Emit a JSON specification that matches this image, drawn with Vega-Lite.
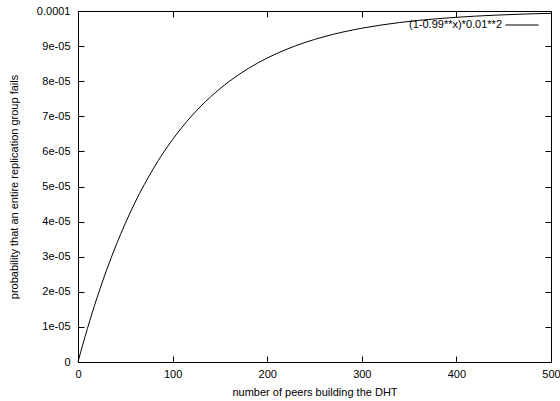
{
  "$schema": "https://vega.github.io/schema/vega-lite/v6.json",
  "width": 473,
  "height": 351,
  "autosize": {"type": "none"},
  "padding": {"left": 78, "top": 11, "right": 9, "bottom": 39},
  "background": "white",
  "config": {
    "font": "Liberation Sans",
    "view": {"stroke": "black", "strokeWidth": 1},
    "axis": {
      "grid": false,
      "domain": false,
      "tickColor": "black",
      "tickSize": -6,
      "labelColor": "black",
      "labelFont": "Liberation Sans",
      "labelFontSize": 11,
      "labelFlush": false,
      "titleFont": "Liberation Sans",
      "titleFontSize": 11,
      "titleFontWeight": "normal",
      "titleColor": "black"
    }
  },
  "data": {
    "values": [
      {"x": 0, "y": 0.0, "series": "(1-0.99**x)*0.01**2"},
      {"x": 5, "y": 0.000004901, "series": "(1-0.99**x)*0.01**2"},
      {"x": 10, "y": 0.000009562, "series": "(1-0.99**x)*0.01**2"},
      {"x": 15, "y": 0.000013994, "series": "(1-0.99**x)*0.01**2"},
      {"x": 20, "y": 0.000018209, "series": "(1-0.99**x)*0.01**2"},
      {"x": 25, "y": 0.000022218, "series": "(1-0.99**x)*0.01**2"},
      {"x": 30, "y": 0.000026030, "series": "(1-0.99**x)*0.01**2"},
      {"x": 35, "y": 0.000029655, "series": "(1-0.99**x)*0.01**2"},
      {"x": 40, "y": 0.000033103, "series": "(1-0.99**x)*0.01**2"},
      {"x": 45, "y": 0.000036381, "series": "(1-0.99**x)*0.01**2"},
      {"x": 50, "y": 0.000039499, "series": "(1-0.99**x)*0.01**2"},
      {"x": 60, "y": 0.000045284, "series": "(1-0.99**x)*0.01**2"},
      {"x": 70, "y": 0.000050516, "series": "(1-0.99**x)*0.01**2"},
      {"x": 80, "y": 0.000055248, "series": "(1-0.99**x)*0.01**2"},
      {"x": 90, "y": 0.000059527, "series": "(1-0.99**x)*0.01**2"},
      {"x": 100, "y": 0.000063397, "series": "(1-0.99**x)*0.01**2"},
      {"x": 110, "y": 0.000066897, "series": "(1-0.99**x)*0.01**2"},
      {"x": 120, "y": 0.000070062, "series": "(1-0.99**x)*0.01**2"},
      {"x": 130, "y": 0.000072925, "series": "(1-0.99**x)*0.01**2"},
      {"x": 140, "y": 0.000075513, "series": "(1-0.99**x)*0.01**2"},
      {"x": 150, "y": 0.000077855, "series": "(1-0.99**x)*0.01**2"},
      {"x": 160, "y": 0.000079972, "series": "(1-0.99**x)*0.01**2"},
      {"x": 170, "y": 0.000081887, "series": "(1-0.99**x)*0.01**2"},
      {"x": 180, "y": 0.000083619, "series": "(1-0.99**x)*0.01**2"},
      {"x": 190, "y": 0.000085186, "series": "(1-0.99**x)*0.01**2"},
      {"x": 200, "y": 0.000086602, "series": "(1-0.99**x)*0.01**2"},
      {"x": 210, "y": 0.000087883, "series": "(1-0.99**x)*0.01**2"},
      {"x": 220, "y": 0.000089042, "series": "(1-0.99**x)*0.01**2"},
      {"x": 230, "y": 0.000090089, "series": "(1-0.99**x)*0.01**2"},
      {"x": 240, "y": 0.000091037, "series": "(1-0.99**x)*0.01**2"},
      {"x": 250, "y": 0.000091894, "series": "(1-0.99**x)*0.01**2"},
      {"x": 260, "y": 0.000092669, "series": "(1-0.99**x)*0.01**2"},
      {"x": 270, "y": 0.000093370, "series": "(1-0.99**x)*0.01**2"},
      {"x": 280, "y": 0.000094004, "series": "(1-0.99**x)*0.01**2"},
      {"x": 290, "y": 0.000094577, "series": "(1-0.99**x)*0.01**2"},
      {"x": 300, "y": 0.000095096, "series": "(1-0.99**x)*0.01**2"},
      {"x": 320, "y": 0.000095989, "series": "(1-0.99**x)*0.01**2"},
      {"x": 340, "y": 0.000096719, "series": "(1-0.99**x)*0.01**2"},
      {"x": 360, "y": 0.000097317, "series": "(1-0.99**x)*0.01**2"},
      {"x": 380, "y": 0.000097805, "series": "(1-0.99**x)*0.01**2"},
      {"x": 400, "y": 0.000098205, "series": "(1-0.99**x)*0.01**2"},
      {"x": 420, "y": 0.000098532, "series": "(1-0.99**x)*0.01**2"},
      {"x": 440, "y": 0.000098799, "series": "(1-0.99**x)*0.01**2"},
      {"x": 460, "y": 0.000099018, "series": "(1-0.99**x)*0.01**2"},
      {"x": 480, "y": 0.000099197, "series": "(1-0.99**x)*0.01**2"},
      {"x": 500, "y": 0.000099343, "series": "(1-0.99**x)*0.01**2"}
    ]
  },
  "layer": [
    {
      "mark": {"type": "line", "strokeWidth": 1, "interpolate": "monotone"},
      "encoding": {
        "x": {
          "field": "x", "type": "quantitative",
          "scale": {"domain": [0, 500], "nice": false, "zero": false},
          "axis": {"values": [0, 100, 200, 300, 400, 500], "title": "number of peers building the DHT", "labelPadding": 12, "titlePadding": 7}
        },
        "y": {
          "field": "y", "type": "quantitative",
          "scale": {"domain": [0, 0.0001], "nice": false},
          "axis": {
            "values": [0, 0.00001, 0.00002, 0.00003, 0.00004, 0.00005, 0.00006, 0.00007, 0.00008, 0.00009, 0.0001],
            "labelExpr": "datum.value == 0 ? '0' : (datum.value > 0.000095 ? '0.0001' : round(datum.value * 100000) + 'e-05')",
            "title": "probability that an entire replication group fails",
            "labelPadding": 14,
            "titlePadding": 17
          }
        },
        "color": {
          "field": "series", "type": "nominal",
          "scale": {"range": ["black"]},
          "legend": {
            "title": null,
            "orient": "none",
            "legendX": 427,
            "legendY": -3,
            "symbolType": "stroke",
            "symbolSize": 1089,
            "symbolStrokeWidth": 1,
            "labelAlign": "right",
            "labelOffset": -37,
            "labelFont": "Liberation Sans",
            "labelFontSize": 11,
            "labelColor": "black",
            "padding": 0
          }
        }
      }
    },
    {
      "mark": {"type": "line", "opacity": 0},
      "encoding": {
        "x": {
          "field": "x", "type": "quantitative",
          "scale": {"domain": [0, 500], "nice": false, "zero": false},
          "axis": {"orient": "top", "values": [0, 100, 200, 300, 400, 500], "labels": false, "title": null}
        },
        "y": {
          "field": "y", "type": "quantitative",
          "scale": {"domain": [0, 0.0001], "nice": false},
          "axis": {"orient": "right", "values": [0, 0.00001, 0.00002, 0.00003, 0.00004, 0.00005, 0.00006, 0.00007, 0.00008, 0.00009, 0.0001], "labels": false, "title": null}
        }
      }
    }
  ],
  "resolve": {"axis": {"x": "independent", "y": "independent"}}
}
